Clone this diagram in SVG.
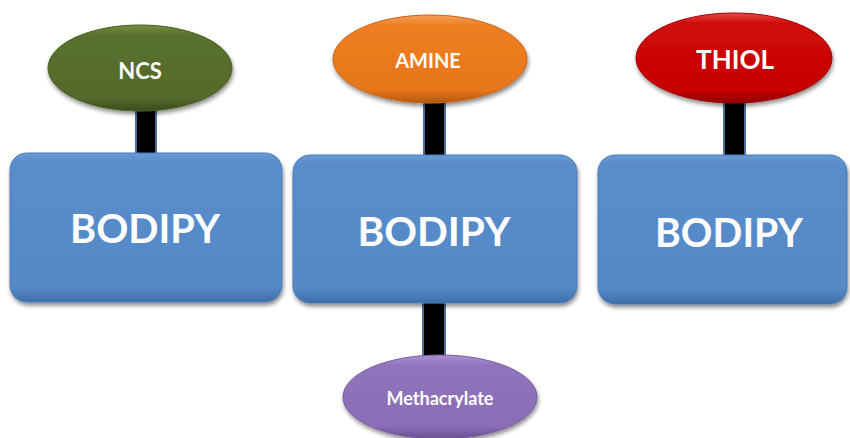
<svg xmlns="http://www.w3.org/2000/svg" width="850" height="438" viewBox="0 0 850 438">
  <defs>
    <linearGradient id="gBox" x1="0" y1="0" x2="0" y2="1">
      <stop offset="0" stop-color="#6a9ad4"/>
      <stop offset="0.06" stop-color="#5a8dcb"/>
      <stop offset="0.9" stop-color="#5489c8"/>
      <stop offset="1" stop-color="#3f6ea8"/>
    </linearGradient>
    <linearGradient id="gNcs" x1="0" y1="0" x2="0" y2="1">
      <stop offset="0" stop-color="#758c42"/>
      <stop offset="0.12" stop-color="#5a712e"/>
      <stop offset="0.85" stop-color="#546a2b"/>
      <stop offset="1" stop-color="#3a4b1c"/>
    </linearGradient>
    <linearGradient id="gAmine" x1="0" y1="0" x2="0" y2="1">
      <stop offset="0" stop-color="#f5a05a"/>
      <stop offset="0.12" stop-color="#ee7e22"/>
      <stop offset="0.85" stop-color="#e8761a"/>
      <stop offset="1" stop-color="#b25a10"/>
    </linearGradient>
    <linearGradient id="gThiol" x1="0" y1="0" x2="0" y2="1">
      <stop offset="0" stop-color="#e44a4a"/>
      <stop offset="0.12" stop-color="#d00808"/>
      <stop offset="0.85" stop-color="#c80404"/>
      <stop offset="1" stop-color="#8e0000"/>
    </linearGradient>
    <linearGradient id="gMeth" x1="0" y1="0" x2="0" y2="1">
      <stop offset="0" stop-color="#ad92d0"/>
      <stop offset="0.12" stop-color="#9274bd"/>
      <stop offset="0.85" stop-color="#8b6cb6"/>
      <stop offset="1" stop-color="#6a4e92"/>
    </linearGradient>
    <filter id="shadow" x="-10%" y="-10%" width="125%" height="130%">
      <feGaussianBlur in="SourceAlpha" stdDeviation="2"/>
      <feOffset dx="1" dy="3" result="off"/>
      <feComponentTransfer><feFuncA type="linear" slope="0.45"/></feComponentTransfer>
      <feMerge><feMergeNode/><feMergeNode in="SourceGraphic"/></feMerge>
    </filter>
  </defs>
  <style>
    .link { fill: #000000; stroke: #4f6f99; stroke-width: 2; }
    .box { fill: url(#gBox); stroke: #4a7cb8; stroke-width: 1; filter: url(#shadow); }
    .oval { filter: url(#shadow); }
    .lbl { font-family: Lato, "Open Sans", "Liberation Sans", sans-serif; font-weight: bold; fill: #ffffff; text-anchor: middle; }
    .big { font-size: 41px; }
  </style>

  <!-- stems linking each group to its core -->
  <g id="connectors">
    <rect class="link" x="136" y="108" width="20" height="48"/>
    <rect class="link" x="424" y="100" width="21" height="57"/>
    <rect class="link" x="724" y="100" width="21" height="57"/>
    <rect class="link" x="423" y="300" width="22" height="58"/>
  </g>

  <g id="bodipy-1">
    <rect class="box" x="10" y="153" width="272" height="149" rx="17"/>
    <text class="lbl big" x="145" y="243" textLength="150" lengthAdjust="spacingAndGlyphs">BODIPY</text>
  </g>
  <g id="bodipy-2">
    <rect class="box" x="293" y="155" width="284" height="148" rx="17"/>
    <text class="lbl big" x="434" y="246" textLength="153" lengthAdjust="spacingAndGlyphs">BODIPY</text>
  </g>
  <g id="bodipy-3">
    <rect class="box" x="598" y="155" width="249" height="149" rx="17"/>
    <text class="lbl big" x="729" y="247" textLength="148" lengthAdjust="spacingAndGlyphs">BODIPY</text>
  </g>

  <g id="ncs">
    <ellipse class="oval" cx="140" cy="68" rx="92" ry="43" fill="url(#gNcs)" stroke="#4a5f24" stroke-width="1"/>
    <text class="lbl" x="140" y="79" font-size="22">NCS</text>
  </g>
  <g id="amine">
    <ellipse class="oval" cx="430" cy="59" rx="97" ry="44" fill="url(#gAmine)" stroke="#c8651a" stroke-width="1"/>
    <text class="lbl" x="428" y="68" font-size="20">AMINE</text>
  </g>
  <g id="thiol">
    <ellipse class="oval" cx="734" cy="58" rx="98" ry="45" fill="url(#gThiol)" stroke="#a00000" stroke-width="1"/>
    <text class="lbl" x="735" y="69" font-size="26">THIOL</text>
  </g>
  <g id="methacrylate">
    <ellipse class="oval" cx="440" cy="397" rx="97" ry="42" fill="url(#gMeth)" stroke="#765aa0" stroke-width="1"/>
    <text class="lbl" x="440" y="405" font-size="18">Methacrylate</text>
  </g>
</svg>
